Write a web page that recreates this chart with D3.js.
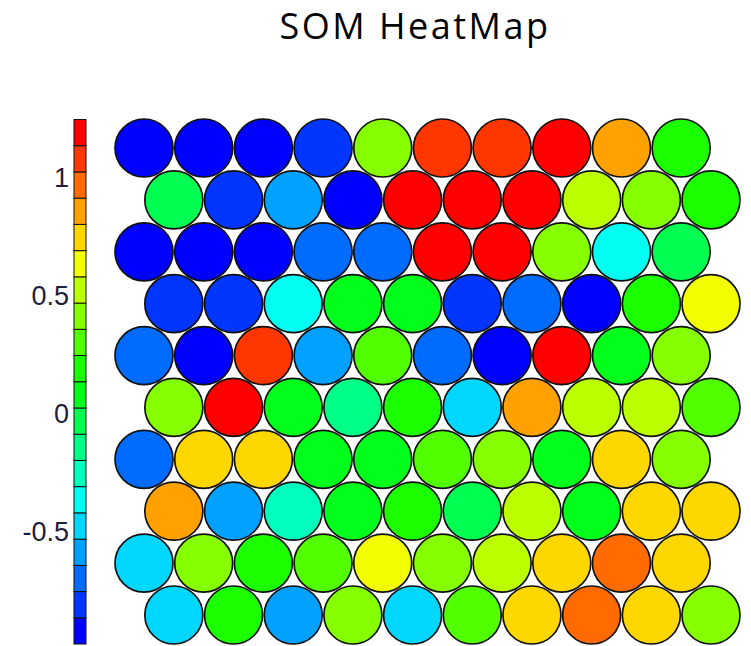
<!DOCTYPE html>
<html lang="en">
    <head>
        <meta charset="utf-8">
        <title>SOM HeatMap</title>
        <script src="https://cdn.jsdelivr.net/npm/d3@7"></script>
        <style type="text/css">
            body { margin: 0; background: #fff; }
        </style>
    </head>
    <body>
        <script type="text/javascript">
            // data: one value per SOM node, rows top to bottom
            var titleText = 'SOM HeatMap';
            var valueRange = [-0.975, 1.245];
            var colorTicks = [-0.5, 0, 0.5, 1];
            var somValues = [
              [-0.92, -0.92, -0.92, -0.81, 0.41, 1.08, 1.08, 1.19, 0.86, 0.19],
              [-0.03, -0.81, -0.59, -0.92, 1.19, 1.19, 1.19, 0.52, 0.41, 0.19],
              [-0.92, -0.92, -0.92, -0.70, -0.70, 1.19, 1.19, 0.41, -0.36, -0.03],
              [-0.81, -0.81, -0.36, 0.08, 0.08, -0.81, -0.70, -0.92, 0.19, 0.64],
              [-0.70, -0.92, 1.08, -0.59, 0.30, -0.70, -0.92, 1.19, 0.08, 0.41],
              [0.41, 1.19, 0.08, -0.14, 0.19, -0.48, 0.86, 0.52, 0.52, 0.30],
              [-0.70, 0.75, 0.75, 0.08, 0.08, 0.30, 0.41, 0.08, 0.75, 0.41],
              [0.86, -0.59, -0.25, 0.08, 0.19, -0.03, 0.52, 0.08, 0.75, 0.75],
              [-0.48, 0.41, 0.19, 0.30, 0.64, 0.41, 0.52, 0.75, 0.97, 0.75],
              [-0.48, 0.19, -0.59, 0.41, -0.48, 0.30, 0.75, 0.97, 0.75, 0.41]
            ];

            var w = 751;
            var h = 646;
            var nBins = 20;

            var svg = d3.select('body').append('svg')
                        .attr('width', w)
                        .attr('height', h);

            // 20 step colour map, blue (low) to red (high)
            var palette = d3.range(nBins).map(function(i) {
              return d3.hsl(240 - i * 240 / (nBins - 1), 1, 0.5).formatHex();
            });
            var colorScale = d3.scaleQuantize()
                               .domain(valueRange)
                               .range(palette);

            // hex grid
            var nodes = [];
            somValues.forEach(function(row, r) {
              row.forEach(function(v, c) {
                nodes.push({row: r, col: c + (r % 2) * 0.5, value: v});
              });
            });

            var xScale = d3.scaleLinear().domain([0, 9.5]).range([144, 711]);
            var yScale = d3.scaleLinear().domain([0, 9]).range([148, 615]);

            svg.append('g').selectAll('circle')
                .data(nodes)
                .enter()
                .append('circle')
                .attr('cx', function(d) { return xScale(d.col); })
                .attr('cy', function(d) { return yScale(d.row); })
                .attr('r', 29)
                .attr('fill', function(d) { return colorScale(d.value); })
                .attr('stroke', '#111')
                .attr('stroke-width', 1.7);

            // colour bar
            var barScale = d3.scaleLinear().domain(valueRange).range([644, 119.5]);
            var bar = svg.append('g');
            bar.selectAll('rect')
                .data(palette)
                .enter()
                .append('rect')
                .attr('x', 74)
                .attr('width', 12)
                .attr('y', function(c) { return barScale(colorScale.invertExtent(c)[1]); })
                .attr('height', function(c) {
                  var e = colorScale.invertExtent(c);
                  return barScale(e[0]) - barScale(e[1]);
                })
                .attr('fill', function(c) { return c; })
                .attr('stroke', '#111')
                .attr('stroke-width', 1);

            var axis = d3.axisLeft(barScale)
                         .tickValues(colorTicks)
                         .tickSize(0)
                         .tickPadding(5)
                         .tickFormat(function(d) { return String(d); });

            var axisG = svg.append('g')
                .attr('transform', 'translate(74,0)')
                .call(axis);
            axisG.select('.domain').remove();
            axisG.selectAll('text')
                .attr('font-family', 'Liberation Sans, Arial, sans-serif')
                .attr('font-size', '27px')
                .attr('fill', '#1e1e3c');

            // title
            svg.append('text')
                .text(titleText)
                .attr('x', 415)
                .attr('y', 39)
                .attr('text-anchor', 'middle')
                .attr('font-family', 'Open Sans, Lato, sans-serif')
                .attr('font-size', '36px')
                .attr('letter-spacing', '2.5px')
                .attr('fill', '#000');
        </script>
    </body>
</html>
